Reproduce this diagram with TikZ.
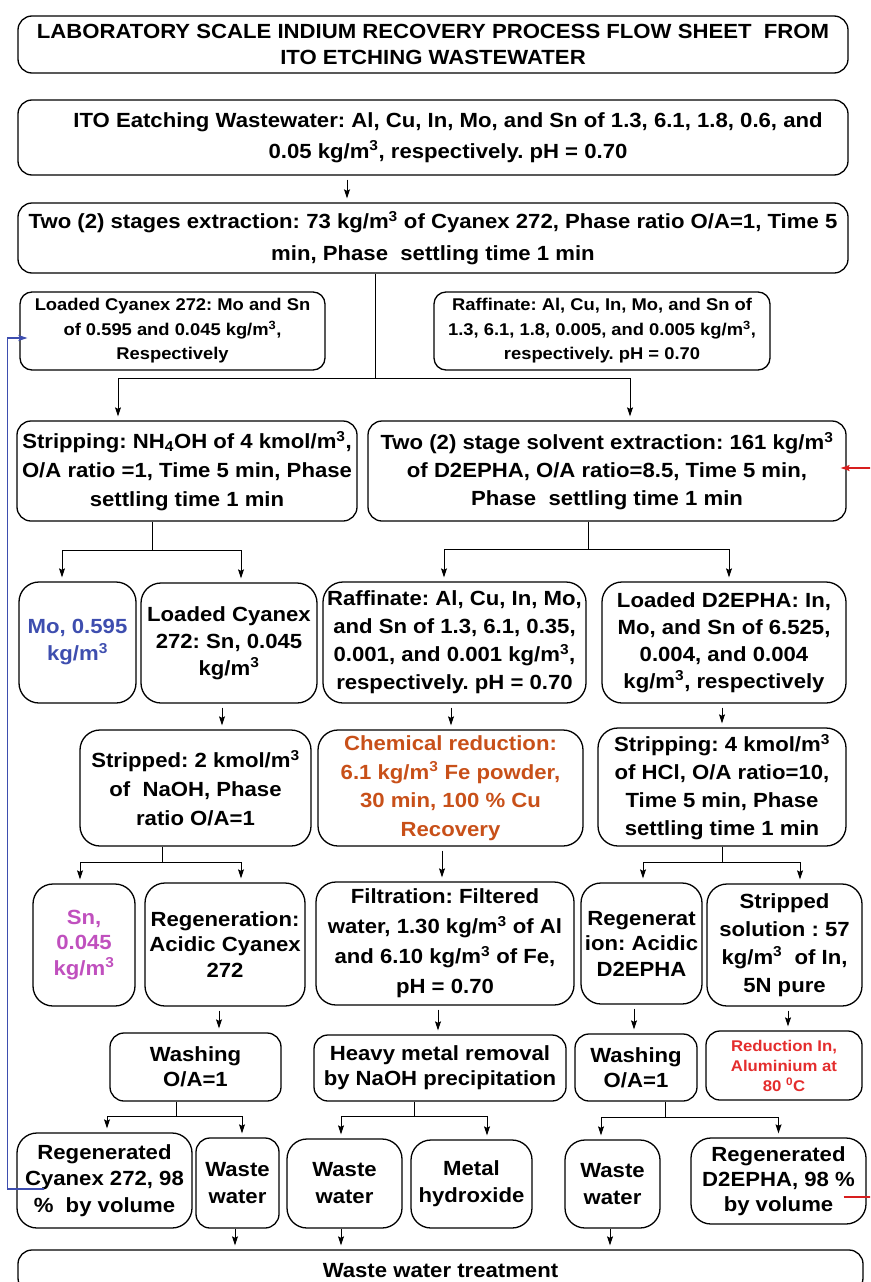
\documentclass[tikz,border=0pt]{standalone}
\usepackage{fontspec}
\setmainfont{Liberation Sans}[FakeStretch=1.08]
\usepackage{xcolor}
\usetikzlibrary{calc,arrows.meta}
\definecolor{moblue}{RGB}{62,78,175}
\definecolor{snpink}{RGB}{192,80,190}
\definecolor{cuorange}{RGB}{200,80,25}
\definecolor{alred}{RGB}{228,45,45}
\definecolor{loopred}{RGB}{215,30,30}
\newcommand{\kgm}{kg/m\textsuperscript{3}}
\tikzset{
  flowfont/.style={font=\bfseries\fontsize{20.5}{27}\selectfont},
  flowbox/.style={draw, rounded corners=14pt, align=center, inner sep=0pt, line width=1.3pt, flowfont},
  flowcell/.style={flowbox, rounded corners=20pt},
  flowsmall/.style={flowbox, rounded corners=12pt, font=\bfseries\fontsize{17}{24.5}\selectfont},
  flowline/.style={line width=1pt},
  flowarrow/.style={flowline, -{Stealth[length=9pt, width=6pt, inset=1.5pt]}, shorten >=4pt},
  flowstep/.style={flowarrow, shorten <=4pt},
}

\begin{document}
\frenchspacing
\begin{tikzpicture}[x=1pt,y=-1pt]
\useasboundingbox (0,0) rectangle (870,1282);
\clip (0,0) rectangle (870,1282);

% Header, feed and first extraction
\node[flowbox, minimum width=830pt, minimum height=57pt, font=\bfseries\fontsize{20.5}{26}\selectfont] (title) at (433,44.5)
  {LABORATORY SCALE INDIUM RECOVERY PROCESS FLOW SHEET\ \ FROM\\ITO ETCHING WASTEWATER};
\node[flowbox, minimum width=830pt, minimum height=75pt, font=\bfseries\fontsize{20.5}{31}\selectfont] (feed) at (433,137.5)
  {\hspace*{30pt}ITO Eatching Wastewater: Al, Cu, In, Mo, and Sn of 1.3, 6.1, 1.8, 0.6, and\\\hspace*{30pt}0.05 \kgm, respectively. pH = 0.70};
\node[flowbox, minimum width=830pt, minimum height=70pt, font=\bfseries\fontsize{20.5}{32}\selectfont] (ext1) at (433,238)
  {Two (2) stages extraction: 73 \kgm{} of Cyanex 272, Phase ratio O/A=1, Time 5\\min, Phase\ \ settling time 1 min};
\node[flowsmall, minimum width=305pt, minimum height=78pt] (lc) at (172.5,331)
  {Loaded Cyanex 272: Mo and Sn\\of 0.595 and 0.045 \kgm,\\Respectively};
\node[flowsmall, minimum width=336pt, minimum height=78pt] (raf1) at (602,331)
  {Raffinate: Al, Cu, In, Mo, and Sn of\\1.3, 6.1, 1.8, 0.005, and 0.005 \kgm,\\respectively. pH = 0.70};

% Stripping of Cyanex and D2EPHA extraction
\node[flowbox, minimum width=340pt, minimum height=100pt, font=\bfseries\fontsize{20.5}{29}\selectfont] (st1) at (187,471)
  {Stripping: NH\textsubscript{4}OH of 4 kmol/m\textsuperscript{3},\\O/A ratio =1, Time 5 min, Phase\\settling time 1 min};
\node[flowbox, minimum width=478pt, minimum height=100pt, font=\bfseries\fontsize{20.5}{28}\selectfont] (ext2) at (607,471)
  {Two (2) stage solvent extraction: 161 \kgm\\of D2EPHA, O/A ratio=8.5, Time 5 min,\\Phase\ \ settling time 1 min};

\node[flowcell, minimum width=117pt, minimum height=121pt, text=moblue] (mo) at (77.5,642.5) {Mo, 0.595\\\kgm};
\node[flowcell, minimum width=176pt, minimum height=120pt] (lcs) at (229,643) {Loaded Cyanex\\272: Sn, 0.045\\\kgm};
\node[flowcell, minimum width=263pt, minimum height=121pt, font=\bfseries\fontsize{20.5}{28}\selectfont] (raf2) at (454.5,642.5)
  {Raffinate: Al, Cu, In, Mo,\\and Sn of 1.3, 6.1, 0.35,\\0.001, and 0.001 \kgm,\\respectively. pH = 0.70};
\node[flowcell, minimum width=244pt, minimum height=121pt] (ld) at (724,642.5)
  {Loaded D2EPHA: In,\\Mo, and Sn of 6.525,\\0.004, and 0.004\\\kgm, respectively};

\node[flowcell, minimum width=231pt, minimum height=116pt, font=\bfseries\fontsize{20.5}{29}\selectfont] (st2) at (195.5,788)
  {Stripped: 2 kmol/m\textsuperscript{3}\\of\ \ NaOH, Phase\\ratio O/A=1};
\node[flowcell, minimum width=265pt, minimum height=116pt, text=cuorange, font=\bfseries\fontsize{20.5}{28.5}\selectfont] (cr) at (450.5,788)
  {Chemical reduction:\\6.1 \kgm{} Fe powder,\\30 min, 100 \% Cu\\Recovery};
\node[flowcell, minimum width=248pt, minimum height=118pt, font=\bfseries\fontsize{20.5}{28}\selectfont] (st3) at (722,787)
  {Stripping: 4 kmol/m\textsuperscript{3}\\of HCl, O/A ratio=10,\\Time 5 min, Phase\\settling time 1 min};

% Regeneration, filtration and product
\node[flowcell, minimum width=102pt, minimum height=122pt, text=snpink, font=\bfseries\fontsize{20.5}{25.5}\selectfont] (sn) at (84,945) {Sn,\\0.045\\\kgm};
\node[flowcell, minimum width=160pt, minimum height=123pt, font=\bfseries\fontsize{20.5}{25.5}\selectfont] (rgc) at (225,944.5) {Regeneration:\\Acidic Cyanex\\272};
\node[flowcell, minimum width=258pt, minimum height=123pt, font=\bfseries\fontsize{20.5}{30}\selectfont] (fil) at (445,943.5)
  {Filtration: Filtered\\water, 1.30 \kgm{} of Al\\and 6.10 \kgm{} of Fe,\\pH = 0.70};
\node[flowcell, minimum width=121pt, minimum height=121pt, font=\bfseries\fontsize{20.5}{25.5}\selectfont] (rgd) at (641.5,943.5) {Regenerat\\ion: Acidic\\D2EPHA};
\node[flowcell, minimum width=155pt, minimum height=122pt, font=\bfseries\fontsize{20.5}{28}\selectfont] (sol) at (784.5,945)
  {Stripped\\solution : 57\\\kgm\ \ of In,\\5N pure};

\node[flowbox, minimum width=171pt, minimum height=68pt, font=\bfseries\fontsize{20.5}{25}\selectfont] (wa1) at (195.5,1067) {Washing\\O/A=1};
\node[flowbox, minimum width=252pt, minimum height=66pt, font=\bfseries\fontsize{20.5}{25}\selectfont] (hm) at (440,1068) {Heavy metal removal\\by NaOH precipitation};
\node[flowbox, minimum width=122pt, minimum height=67pt, font=\bfseries\fontsize{20.5}{25}\selectfont] (wa2) at (636,1067.5) {Washing\\O/A=1};
\node[flowbox, minimum width=156pt, minimum height=69pt, text=alred, font=\bfseries\fontsize{15.5}{20}\selectfont] (red) at (784,1065.5)
  {Reduction In,\\Aluminium at\\80 \textsuperscript{0}C};

% Outlet streams
\node[flowcell, minimum width=175pt, minimum height=95pt, font=\bfseries\fontsize{20.5}{26.5}\selectfont] (rcy) at (104.5,1180.5)
  {Regenerated\\Cyanex 272, 98\\\%\ \ by volume};
\node[flowbox, minimum width=83pt, minimum height=90pt] (ww1) at (237.5,1183) {Waste\\water};
\node[flowcell, minimum width=115pt, minimum height=89pt] (ww2) at (344.5,1183.5) {Waste\\water};
\node[flowcell, minimum width=121pt, minimum height=88pt] (mh) at (471.5,1184) {Metal\\hydroxide};
\node[flowcell, minimum width=95pt, minimum height=88pt] (ww3) at (612.5,1184) {Waste\\water};
\node[flowcell, minimum width=175pt, minimum height=86pt, font=\bfseries\fontsize{20.5}{25}\selectfont] (rd2) at (778.5,1181)
  {Regenerated\\D2EPHA, 98 \%\\by volume};
\node[flowbox, minimum width=845pt, minimum height=42pt] (wwt) at (440.5,1271) {Waste water treatment};

% Connectors
\draw[flowstep] ([xshift=-86pt]feed.south) -- ([xshift=-86pt]ext1.north);

\coordinate (jA) at (375,378);
\draw[flowline] (ext1.south -| jA) -- (jA);
\draw[flowarrow] (jA) -| ([xshift=-69pt]st1.north);
\draw[flowarrow] (jA) -| ([xshift=23pt]ext2.north);

\coordinate (jB) at (152,550);
\draw[flowline] (st1.south -| jB) -- (jB);
\draw[flowarrow] (jB) -| ([xshift=-15.5pt]mo.north);
\draw[flowarrow] (jB) -| ([xshift=12pt]lcs.north);

\coordinate (jC) at (588,549);
\draw[flowline] (ext2.south -| jC) -- (jC);
\draw[flowarrow] (jC) -| ([xshift=-10.5pt]raf2.north);
\draw[flowarrow] (jC) -| ([xshift=5pt]ld.north);

\draw[flowstep] ([xshift=-7pt]lcs.south) -- ([xshift=-7pt]lcs.south |- st2.north);
\draw[flowstep] ([xshift=-3.5pt]raf2.south) -- ([xshift=-3.5pt]raf2.south |- cr.north);
\draw[flowstep] ([xshift=-2pt]ld.south) -- ([xshift=-2pt]ld.south |- st3.north);

\coordinate (jD) at (162,862);
\draw[flowline] (st2.south -| jD) -- (jD);
\draw[flowarrow] (jD) -| ([xshift=-4pt]sn.north);
\draw[flowarrow] (jD) -| ([xshift=16pt]rgc.north);

\draw[flowstep] ([xshift=-8.5pt]cr.south) -- ([xshift=-8.5pt]cr.south |- fil.north);

\coordinate (jE) at (722,862);
\draw[flowline] (st3.south -| jE) -- (jE);
\draw[flowarrow] (jE) -| ([xshift=1.5pt]rgd.north);
\draw[flowarrow] (jE) -| ([xshift=15.5pt]sol.north);

\draw[flowstep] ([xshift=-6pt]rgc.south) -- ([xshift=-6pt]rgc.south |- wa1.north);
\draw[flowstep] ([xshift=-7pt]fil.south) -- ([xshift=-7pt]fil.south |- hm.north);
\draw[flowstep] ([xshift=-7.5pt]rgd.south) -- ([xshift=-7.5pt]rgd.south |- wa2.north);
\draw[flowstep] ([xshift=3.5pt]sol.south) -- ([xshift=3.5pt]sol.south |- red.north);

\coordinate (jF) at (176,1116);
\draw[flowline] (wa1.south -| jF) -- (jF);
\draw[flowarrow] (jF) -| ([xshift=2.5pt]rcy.north);
\draw[flowarrow] (jF) -| ([xshift=4.5pt]ww1.north);

\coordinate (jG) at (414,1116);
\draw[flowline] (hm.south -| jG) -- (jG);
\draw[flowarrow] (jG) -| ([xshift=-3.5pt]ww2.north);
\draw[flowarrow] (jG) -| ([xshift=15.5pt]mh.north);

\coordinate (jH) at (665,1117);
\draw[flowline] (wa2.south -| jH) -- (jH);
\draw[flowarrow] (jH) -| ([xshift=-11.5pt]ww3.north);
\draw[flowarrow] (jH) -| (rd2.north);

\draw[flowarrow] ([xshift=-2.5pt]ww1.south) -- ([xshift=-2.5pt]ww1.south |- wwt.north);
\draw[flowarrow] ([xshift=-3.5pt]ww2.south) -- ([xshift=-3.5pt]ww2.south |- wwt.north);
\draw[flowarrow] ([xshift=-2.5pt]ww3.south) -- ([xshift=-2.5pt]ww3.south |- wwt.north);

% Recycle streams
\draw[moblue, line width=1.2pt, -{Stealth[length=9pt, width=6pt, inset=1.5pt]}]
  ([xshift=28pt, yshift=-8.5pt]rcy.west) -- ++(-37,0) |- ([xshift=8pt, yshift=-7pt]lc.west);
\draw[loopred, line width=1.2pt, -{Stealth[length=9pt, width=6pt, inset=1.5pt]}]
  ([xshift=40pt, yshift=3pt]ext2.east) -- ([xshift=-6pt, yshift=3pt]ext2.east);
\draw[loopred, line width=1.2pt] ([xshift=-23pt, yshift=-16pt]rd2.east) -- ++(40,0);
\end{tikzpicture}
\end{document}
